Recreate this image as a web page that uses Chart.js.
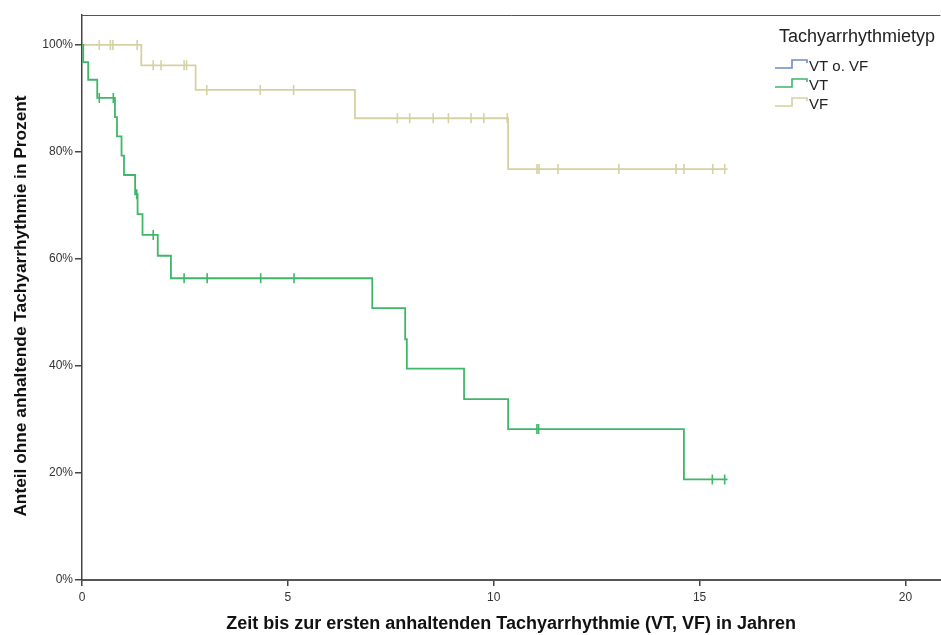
<!DOCTYPE html>
<html>
<head>
<meta charset="utf-8">
<script src="https://cdn.jsdelivr.net/npm/chart.js@4"></script>
<style>
  html, body { margin: 0; padding: 0; background: #fff; overflow: hidden; }
  #wrap { width: 941px; height: 635px; overflow: hidden; }
</style>
</head>
<body>
<div id="wrap"><canvas id="km" width="947" height="635"></canvas></div>
<script>
'use strict';

// ── data ──
const seriesNames = ['VT o. VF', 'VT', 'VF'];
const seriesColors = ['#6f86cc', '#3fb769', '#d6d1a2'];

// VT: step points (time in years, % without event)
const vtTimes = [0, 0.03, 0.15, 0.37, 0.80, 0.85, 0.96, 1.02, 1.29, 1.35, 1.47, 1.84, 2.16, 7.05, 7.85, 7.89, 9.28, 10.35, 14.62, 15.68];
const vtSurv  = [100, 96.8, 93.5, 90.1, 86.5, 82.9, 79.3, 75.7, 72.1, 68.4, 64.5, 60.6, 56.4, 50.8, 45.0, 39.5, 33.8, 28.2, 18.8, 18.8];
const vtCensorTimes = [0.42, 0.76, 1.33, 1.73, 2.48, 3.04, 4.34, 5.15, 11.05, 11.09, 15.31, 15.61];
const vtCensorSurv  = [90.1, 90.1, 72.1, 64.5, 56.4, 56.4, 56.4, 56.4, 28.2, 28.2, 18.8, 18.8];

// VF
const vfTimes = [0, 1.44, 2.76, 6.63, 10.35, 15.68];
const vfSurv  = [100, 96.2, 91.6, 86.3, 76.8, 76.8];
const vfCensorTimes = [0.42, 0.69, 0.75, 1.34, 1.73, 1.92, 2.48, 2.54, 3.03, 4.33, 5.14, 7.66, 7.96, 8.53, 8.90, 9.45, 9.76, 10.33, 11.05, 11.10, 11.56, 13.04, 14.43, 14.62, 15.32, 15.61];
const vfCensorSurv  = [100, 100, 100, 100, 96.2, 96.2, 96.2, 96.2, 91.6, 91.6, 91.6, 86.3, 86.3, 86.3, 86.3, 86.3, 86.3, 86.3, 76.8, 76.8, 76.8, 76.8, 76.8, 76.8, 76.8, 76.8];

const xTicks = [0, 5, 10, 15, 20];
const yTicks = [0, 20, 40, 60, 80, 100];
const yTitle = 'Anteil ohne anhaltende Tachyarrhythmie in Prozent';

const FONT = "'Liberation Sans', Arial, sans-serif";
const toPts = (xs, ys) => xs.map((x, i) => ({ x, y: ys[i] }));

const stepSet = (label, pts, color) => ({
  label, data: pts, borderColor: color, backgroundColor: color,
  borderWidth: 1.8, stepped: 'before', pointRadius: 0, fill: false, tension: 0
});
const censorSet = (label, pts, color) => ({
  label, data: pts, showLine: false, borderColor: color, backgroundColor: color,
  pointStyle: 'line', rotation: 90, pointRadius: 5, pointBorderWidth: 1.6, pointHoverRadius: 5
});

// top frame line, y title, legend with step icons
const framePlugin = {
  id: 'frame',
  afterDraw(chart) {
    const { ctx, chartArea: a } = chart;
    ctx.save();
    ctx.strokeStyle = '#555';
    ctx.lineWidth = 1;
    ctx.beginPath();
    ctx.moveTo(a.left, a.top + 0.5);
    ctx.lineTo(a.right, a.top + 0.5);
    ctx.stroke();

    // y title (a bit below the plot centre, like the original)
    ctx.save();
    ctx.translate(21, 306);
    ctx.rotate(-Math.PI / 2);
    ctx.fillStyle = '#111';
    ctx.textAlign = 'center';
    ctx.textBaseline = 'middle';
    ctx.font = `bold 17.3px ${FONT}`;
    ctx.fillText(yTitle, 0, 0);
    ctx.restore();

    // legend
    ctx.fillStyle = '#222';
    ctx.textBaseline = 'middle';
    ctx.font = `18px ${FONT}`;
    ctx.fillText('Tachyarrhythmietyp', 779, 37);
    ctx.font = `15px ${FONT}`;
    seriesNames.forEach((name, i) => {
      const y = 66 + i * 19;
      const x0 = 775;
      ctx.strokeStyle = seriesColors[i];
      ctx.lineWidth = 1.6;
      ctx.beginPath();
      ctx.moveTo(x0, y + 2);
      ctx.lineTo(x0 + 17, y + 2);
      ctx.lineTo(x0 + 17, y - 6);
      ctx.lineTo(x0 + 32, y - 6);
      ctx.lineTo(x0 + 32, y - 3);
      ctx.stroke();
      ctx.fillStyle = '#222';
      ctx.fillText(name, x0 + 34, y + 1);
    });
    ctx.restore();
  }
};

new Chart(document.getElementById('km'), {
  type: 'line',
  data: {
    datasets: [
      stepSet('VT', toPts(vtTimes, vtSurv), seriesColors[1]),
      censorSet('VT zensiert', toPts(vtCensorTimes, vtCensorSurv), seriesColors[1]),
      stepSet('VF', toPts(vfTimes, vfSurv), seriesColors[2]),
      censorSet('VF zensiert', toPts(vfCensorTimes, vfCensorSurv), seriesColors[2]),
      stepSet('VT o. VF', [], seriesColors[0])
    ]
  },
  options: {
    responsive: false,
    animation: false,
    layout: { padding: { top: 15, right: 0, left: 0, bottom: 0 } },
    plugins: { legend: { display: false }, tooltip: { enabled: false } },
    scales: {
      x: {
        type: 'linear', min: 0, max: 20.85,
        afterBuildTicks: s => { s.ticks = xTicks.map(v => ({ value: v })); },
        afterFit: s => { s.height = 55; },
        grid: { drawOnChartArea: false, tickLength: 6, color: '#444', lineWidth: 1.5 },
        border: { color: '#555', width: 2 },
        ticks: { color: '#333', padding: 4, font: { family: FONT, size: 12 } },
        title: {
          display: true,
          text: 'Zeit bis zur ersten anhaltenden Tachyarrhythmie (VT, VF) in Jahren',
          color: '#111', padding: { top: 6, bottom: 0 },
          font: { family: FONT, size: 18, weight: 'bold' }
        }
      },
      y: {
        type: 'linear', min: 0, max: 105.6,
        afterBuildTicks: s => { s.ticks = yTicks.map(v => ({ value: v })); },
        afterFit: s => { s.width = 82; },
        grid: { drawOnChartArea: false, tickLength: 7, color: '#444', lineWidth: 1.5 },
        border: { color: '#444', width: 1.5 },
        ticks: { color: '#333', padding: 2, callback: v => v + '%', font: { family: FONT, size: 12 } },
        title: { display: false }
      }
    }
  },
  plugins: [framePlugin]
});
</script>
</body>
</html>
